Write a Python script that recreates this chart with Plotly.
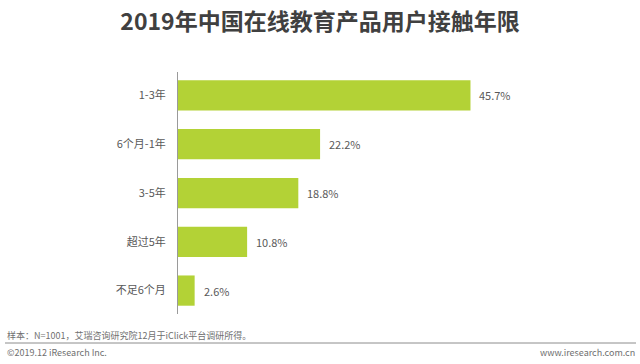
import plotly.graph_objects as go

categories = ["1-3年", "6个月-1年", "3-5年", "超过5年", "不足6个月"]
values = [45.7, 22.2, 18.8, 10.8, 2.6]
title_text = "2019年中国在线教育产品用户接触年限"
note_text = "样本：N=1001，艾瑞咨询研究院12月于iClick平台调研所得。"
copyright_text = "©2019.12 iResearch Inc."
site_text = "www.iresearch.com.cn"

W, H = 640, 364
FONT = "Noto Sans CJK SC, Microsoft YaHei, sans-serif"
BAR = "#B3D236"
TXT = "#595959"
FOOT = "#707070"

fig = go.Figure()
fig.add_trace(go.Bar(
    x=values, y=categories, orientation="h",
    marker=dict(color=BAR, line=dict(width=0)),
    width=0.62, hoverinfo="skip",
))

for v, c in zip(values, categories):
    fig.add_annotation(x=v, y=c, xref="x", yref="y", text=f"{v:.1f}%",
                       showarrow=False, xanchor="left", xshift=7,
                       font=dict(size=11, color=TXT, family=FONT))

def px(x):
    return x / W

def py(y):
    return 1 - y / H

fig.update_layout(
    width=W, height=H,
    margin=dict(l=0, r=0, t=0, b=0),
    paper_bgcolor="white", plot_bgcolor="white",
    showlegend=False,
    font=dict(family=FONT, color=TXT, size=11),
    title=dict(text=f"<b>{title_text}</b>", x=0.5, xanchor="center",
               y=py(22), yanchor="middle",
               font=dict(size=23, color="#404040", family=FONT)),
    xaxis=dict(domain=[px(178), px(562)], range=[0, 60], visible=False,
               showgrid=False, zeroline=False),
    yaxis=dict(domain=[py(314), py(72)], type="category",
               categoryorder="array", categoryarray=categories,
               range=[4.48, -0.48], showline=True, linecolor="#9a9a9a",
               linewidth=1, ticks="", showgrid=False, zeroline=False,
               ticklabelstandoff=9,
               tickfont=dict(size=11, color=TXT, family=FONT)),
)

fig.add_annotation(x=px(5), y=py(335), xref="paper", yref="paper", text=note_text,
                   showarrow=False, xanchor="left", yanchor="middle",
                   font=dict(size=9, color=FOOT, family=FONT))
fig.add_annotation(x=px(5), y=py(352), xref="paper", yref="paper", text=copyright_text,
                   showarrow=False, xanchor="left", yanchor="middle",
                   font=dict(size=9, color=FOOT, family=FONT))
fig.add_annotation(x=px(637), y=py(352), xref="paper", yref="paper", text=site_text,
                   showarrow=False, xanchor="right", yanchor="middle",
                   font=dict(size=9, color=FOOT, family=FONT))
fig.add_shape(type="line", xref="paper", yref="paper",
              x0=px(5), x1=px(636), y0=py(343), y1=py(343),
              line=dict(color="#8c8c8c", width=1))

fig.write_html("out.html", config={"displayModeBar": False, "staticPlot": True},
               post_script="document.body.style.margin='0px';document.body.style.overflow='hidden';")
